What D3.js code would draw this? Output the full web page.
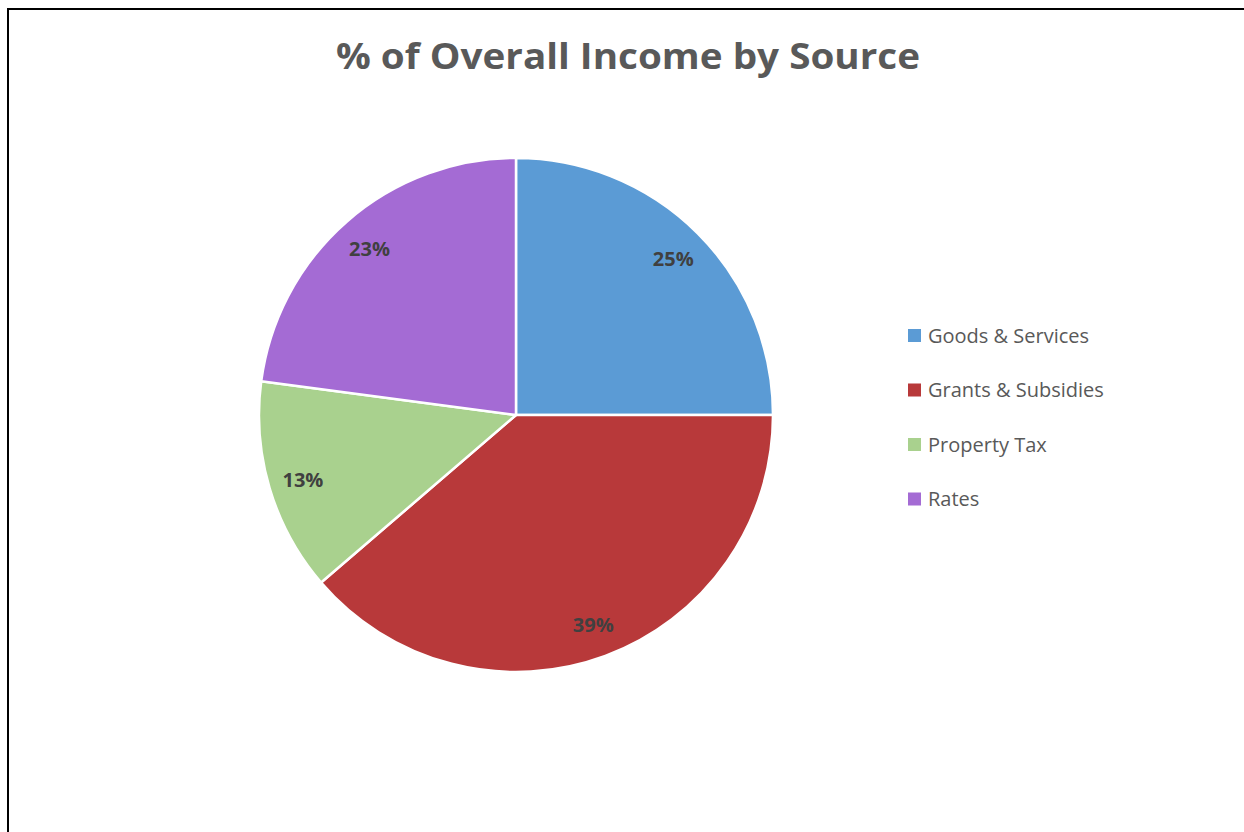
<!DOCTYPE html>
<html>
<head>
<meta charset="utf-8">
<script src="https://cdn.jsdelivr.net/npm/d3@7"></script>
<style>
  html, body { margin: 0; padding: 0; background: #fff; }
  svg { display: block; }
</style>
</head>
<body>
<svg id="chart" width="1244" height="832"></svg>
<script>
const categories = ["Goods & Services", "Grants & Subsidies", "Property Tax", "Rates"];
const values = [25.0, 38.7, 13.4, 22.9];
const colors = ["#5B9BD5", "#B8393A", "#A9D18E", "#A46BD4"];
const titleText = "% of Overall Income by Source";

const svg = d3.select("#chart");
const W = 1244, H = 832;

// frame
svg.append("rect")
  .attr("x", 8).attr("y", 9)
  .attr("width", W + 20).attr("height", H + 20)
  .attr("fill", "#fff")
  .attr("stroke", "#000")
  .attr("stroke-width", 2);

// title
svg.append("text")
  .attr("x", 628).attr("y", 69)
  .attr("text-anchor", "middle")
  .attr("font-family", "'Open Sans', sans-serif")
  .attr("font-weight", "bold")
  .attr("font-size", 36)
  .attr("textLength", 584)
  .attr("lengthAdjust", "spacingAndGlyphs")
  .attr("fill", "#595959")
  .text(titleText);

const cx = 516, cy = 415, r = 257;
const data = categories.map((c, i) => ({ name: c, value: values[i], color: colors[i] }));
const pie = d3.pie().sort(null).value(d => d.value);
const arcs = pie(data);
const arc = d3.arc().innerRadius(0).outerRadius(r);
const labelArc = d3.arc().innerRadius(r * 0.865).outerRadius(r * 0.865);
const total = d3.sum(values);

const g = svg.append("g").attr("transform", `translate(${cx},${cy})`);
g.selectAll("path.slice")
  .data(arcs)
  .join("path")
  .attr("class", "slice")
  .attr("d", arc)
  .attr("fill", d => d.data.color)
  .attr("stroke", "#fff")
  .attr("stroke-width", 2.5)
  .attr("stroke-linejoin", "round");

g.selectAll("text.lbl")
  .data(arcs)
  .join("text")
  .attr("class", "lbl")
  .attr("transform", d => `translate(${labelArc.centroid(d)})`)
  .attr("text-anchor", "middle")
  .attr("dy", "0.42em")
  .attr("font-family", "'Open Sans', sans-serif")
  .attr("font-weight", "bold")
  .attr("font-size", 20)
  .attr("fill", "#404040")
  .text(d => d3.format(".0%")(d.data.value / total));

// legend
const legY = d3.scalePoint().domain(categories).range([335.5, 499]);
const leg = svg.append("g");
const items = leg.selectAll("g.item")
  .data(data)
  .join("g")
  .attr("class", "item")
  .attr("transform", d => `translate(908,${legY(d.name)})`);
items.append("rect")
  .attr("x", 0).attr("y", -6.5)
  .attr("width", 13).attr("height", 13)
  .attr("fill", d => d.color);
items.append("text")
  .attr("x", 20).attr("y", 0)
  .attr("dy", "0.36em")
  .attr("font-family", "'Open Sans', sans-serif")
  .attr("font-size", 20)
  .attr("fill", "#595959")
  .text(d => d.name);
</script>
</body>
</html>
